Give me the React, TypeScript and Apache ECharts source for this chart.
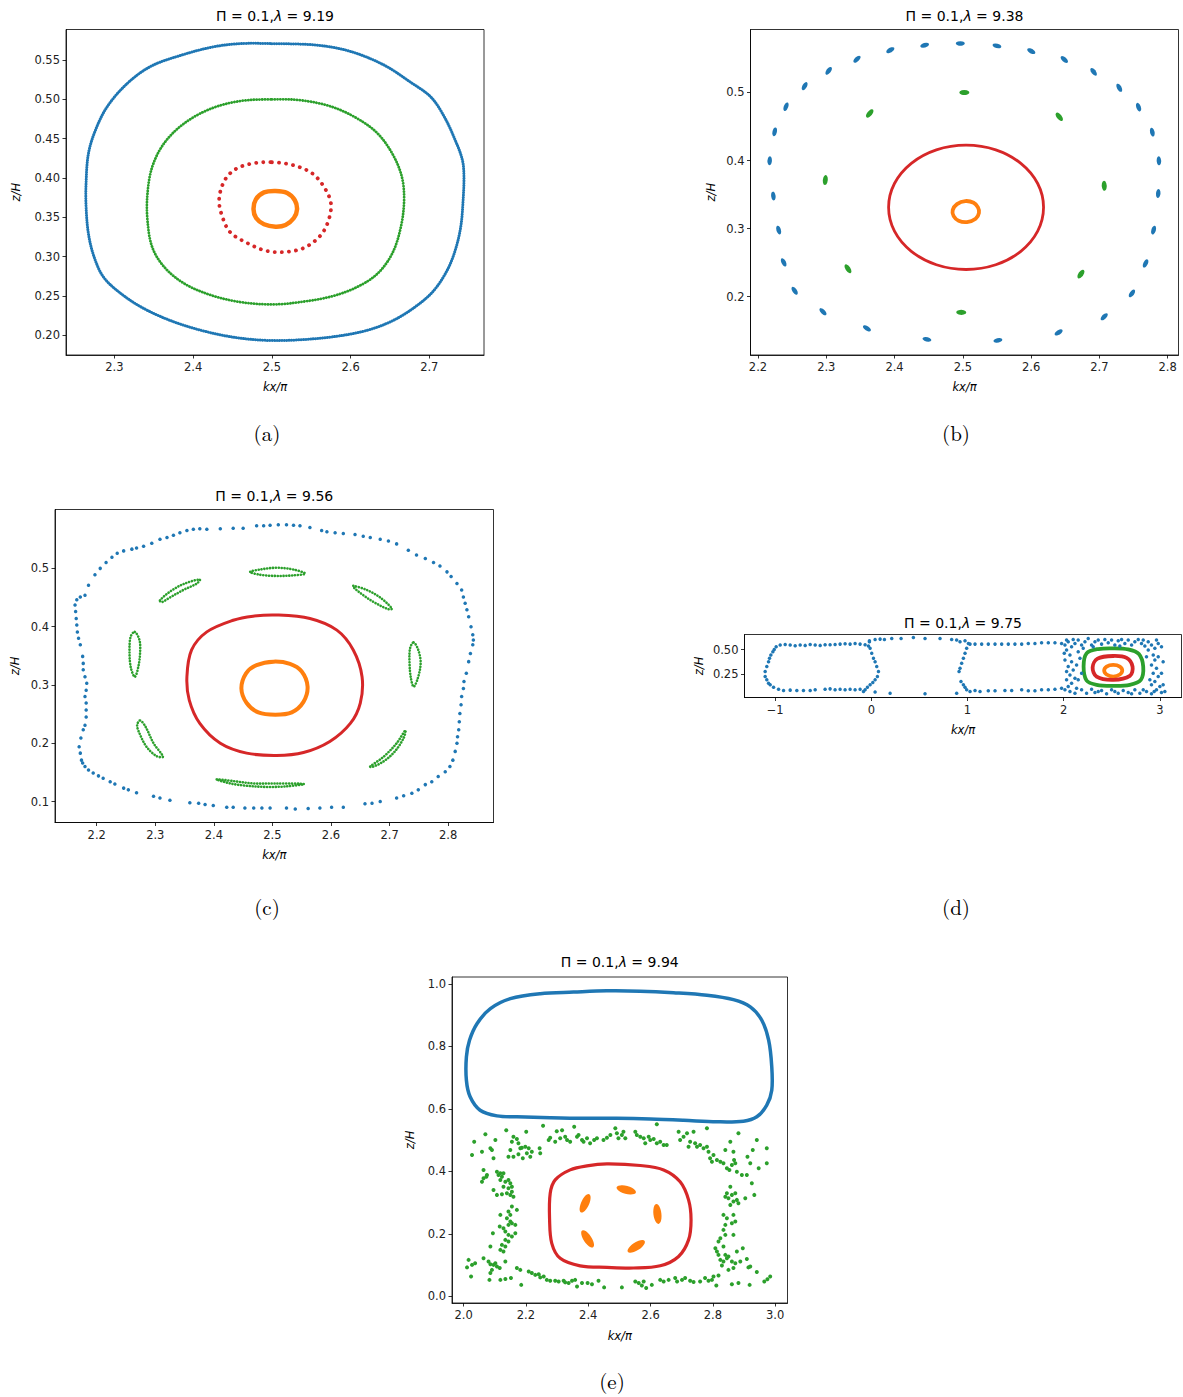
import React, { useEffect, useRef } from "react";
import * as echarts from "echarts";

// ---------------- DATA ----------------
const LAMBDAS = ["9.19", "9.38", "9.56", "9.75", "9.94"];
const CAPTIONS = ["(a)", "(b)", "(c)", "(d)", "(e)"];

// tick values
const aXTicks = [2.3, 2.4, 2.5, 2.6, 2.7];
const aYTicks = [0.2, 0.25, 0.3, 0.35, 0.4, 0.45, 0.5, 0.55];
const bXTicks = [2.2, 2.3, 2.4, 2.5, 2.6, 2.7, 2.8];
const bYTicks = [0.2, 0.3, 0.4, 0.5];
const cXTicks = [2.2, 2.3, 2.4, 2.5, 2.6, 2.7, 2.8];
const cYTicks = [0.1, 0.2, 0.3, 0.4, 0.5];
const dXTicks = [-1, 0, 1, 2, 3];
const dYTicks = [0.25, 0.5];
const eXTicks = [2.0, 2.2, 2.4, 2.6, 2.8, 3.0];
const eYTicks = [0.0, 0.2, 0.4, 0.6, 0.8, 1.0];

// (a) lambda = 9.19
const aBlue = [[2.500,0.571],[2.558,0.569],[2.600,0.561],[2.642,0.544],[2.676,0.522],[2.702,0.503],[2.719,0.478],[2.733,0.448],[2.742,0.423],[2.744,0.402],[2.743,0.372],[2.740,0.338],[2.733,0.308],[2.723,0.283],[2.706,0.257],[2.685,0.238],[2.655,0.219],[2.621,0.206],[2.579,0.198],[2.536,0.194],[2.500,0.193],[2.460,0.196],[2.418,0.204],[2.375,0.217],[2.337,0.234],[2.308,0.253],[2.286,0.274],[2.274,0.300],[2.267,0.329],[2.264,0.363],[2.264,0.393],[2.267,0.431],[2.276,0.461],[2.291,0.491],[2.316,0.520],[2.346,0.542],[2.384,0.556],[2.426,0.567],[2.460,0.571]];
const aGreen = [[2.500,0.500],[2.536,0.499],[2.575,0.491],[2.608,0.476],[2.634,0.457],[2.653,0.431],[2.665,0.402],[2.668,0.372],[2.664,0.338],[2.653,0.304],[2.634,0.278],[2.608,0.261],[2.575,0.249],[2.536,0.242],[2.500,0.239],[2.460,0.242],[2.422,0.251],[2.388,0.266],[2.363,0.287],[2.348,0.312],[2.342,0.346],[2.342,0.380],[2.348,0.414],[2.363,0.444],[2.388,0.469],[2.422,0.488],[2.460,0.498]];
const aRed = [[2.500,0.420],[2.528,0.416],[2.551,0.406],[2.566,0.389],[2.575,0.368],[2.572,0.346],[2.562,0.327],[2.543,0.312],[2.520,0.306],[2.494,0.307],[2.469,0.317],[2.447,0.331],[2.437,0.351],[2.433,0.372],[2.439,0.395],[2.452,0.410],[2.473,0.418]];
const aOrange = [[2.5047,0.3835],[2.5195,0.3809],[2.5292,0.3716],[2.532,0.360],[2.528,0.349],[2.5174,0.3401],[2.5047,0.338],[2.490,0.341],[2.480,0.349],[2.4767,0.3603],[2.4797,0.3727],[2.490,0.3816]];

// (b) lambda = 9.38
const bBlue = [[2.4963,0.5719],[2.550,0.5685],[2.6003,0.5607],[2.6487,0.5485],[2.6916,0.5303],[2.7292,0.5069],[2.7575,0.4785],[2.7776,0.4418],[2.7873,0.3997],[2.7863,0.3517],[2.7795,0.2979],[2.7678,0.2489],[2.7478,0.2049],[2.7072,0.1706],[2.6404,0.1476],[2.5515,0.1359],[2.4475,0.1374],[2.3596,0.1535],[2.2952,0.178],[2.2537,0.2088],[2.2376,0.2504],[2.2303,0.2979],[2.2225,0.3478],[2.2171,0.3997],[2.2244,0.4422],[2.241,0.479],[2.2683,0.5093],[2.3035,0.5318],[2.345,0.5489],[2.3938,0.5622],[2.4441,0.5695]];
const bGreen = [[2.5022,0.5],[2.6413,0.4643],[2.7072,0.363],[2.6731,0.2333],[2.4978,0.177],[2.3318,0.2411],[2.2986,0.3713],[2.3636,0.4692]];
const bRed = [[2.5048,0.4226],[2.5483,0.4157],[2.5850,0.3959],[2.6097,0.3663],[2.6183,0.3313],[2.6097,0.2963],[2.5850,0.2667],[2.5483,0.2469],[2.5048,0.2400],[2.4613,0.2469],[2.4246,0.2667],[2.3999,0.2963],[2.3913,0.3313],[2.3999,0.3663],[2.4246,0.3959],[2.4613,0.4157]];
const bOrange = [[2.5037,0.3405],[2.5159,0.338],[2.5222,0.3312],[2.5237,0.3233],[2.5188,0.3145],[2.5061,0.3096],[2.4939,0.3116],[2.4866,0.3184],[2.4852,0.3272],[2.4915,0.336]];

// (c) lambda = 9.56
const cBlue = [[2.197,0.489],[2.206,0.500],[2.216,0.510],[2.226,0.519],[2.235,0.526],[2.246,0.530],[2.260,0.533],[2.268,0.535],[2.280,0.538],[2.294,0.543],[2.308,0.550],[2.320,0.553],[2.331,0.557],[2.342,0.561],[2.354,0.565],[2.365,0.567],[2.376,0.568],[2.388,0.567],[2.411,0.568],[2.433,0.569],[2.450,0.569],[2.473,0.573],[2.485,0.573],[2.496,0.574],[2.510,0.575],[2.524,0.575],[2.536,0.574],[2.547,0.573],[2.564,0.570],[2.584,0.565],[2.593,0.563],[2.607,0.561],[2.621,0.560],[2.641,0.558],[2.655,0.555],[2.667,0.553],[2.684,0.550],[2.698,0.547],[2.712,0.542],[2.732,0.531],[2.746,0.523],[2.761,0.517],[2.775,0.510],[2.786,0.504],[2.798,0.494],[2.805,0.486],[2.815,0.474],[2.823,0.463],
[2.826,0.451],[2.829,0.440],[2.832,0.429],[2.835,0.417],[2.839,0.400],[2.842,0.386],[2.843,0.377],[2.842,0.369],[2.838,0.354],[2.835,0.340],[2.831,0.320],[2.827,0.306],[2.826,0.294],[2.823,0.280],[2.822,0.266],[2.820,0.251],[2.819,0.237],[2.818,0.223],[2.816,0.211],[2.815,0.200],[2.812,0.186],[2.808,0.171],[2.803,0.160],
[2.795,0.151],[2.783,0.143],[2.772,0.134],[2.761,0.129],[2.749,0.120],[2.738,0.114],[2.724,0.110],[2.712,0.106],[2.684,0.100],[2.670,0.097],[2.658,0.096],[2.621,0.090],[2.601,0.090],[2.581,0.089],[2.561,0.088],[2.539,0.087],[2.524,0.089],[2.496,0.089],[2.482,0.089],[2.468,0.089],[2.453,0.089],[2.433,0.090],[2.422,0.090],[2.399,0.093],[2.385,0.095],[2.374,0.097],[2.359,0.098],[2.325,0.102],[2.308,0.106],[2.297,0.109],[2.268,0.115],[2.254,0.120],[2.246,0.123],[2.231,0.130],[2.223,0.134],[2.211,0.140],[2.203,0.144],[2.194,0.149],[2.186,0.154],[2.180,0.160],[2.176,0.166],[2.174,0.171],
[2.172,0.183],[2.170,0.194],[2.173,0.209],[2.177,0.223],[2.180,0.231],[2.182,0.245],[2.182,0.257],[2.182,0.269],[2.180,0.280],[2.182,0.291],[2.183,0.303],[2.180,0.314],[2.177,0.326],[2.177,0.337],[2.176,0.349],[2.172,0.369],[2.169,0.380],[2.167,0.391],[2.166,0.403],[2.165,0.414],[2.164,0.426],[2.163,0.437],[2.166,0.446],[2.172,0.451],[2.180,0.454],[2.186,0.471]];
const cGreenIslands = [
  [[2.462,0.494],[2.479,0.498],[2.507,0.501],[2.536,0.498],[2.556,0.491],[2.536,0.488],[2.507,0.487],[2.479,0.489]],
  [[2.308,0.445],[2.325,0.460],[2.348,0.473],[2.376,0.481],[2.371,0.474],[2.348,0.463],[2.325,0.450],[2.311,0.442]],
  [[2.638,0.470],[2.661,0.463],[2.684,0.450],[2.704,0.431],[2.698,0.430],[2.675,0.441],[2.655,0.454],[2.639,0.467]],
  [[2.265,0.391],[2.273,0.377],[2.274,0.354],[2.271,0.331],[2.265,0.314],[2.258,0.331],[2.256,0.360],[2.258,0.383]],
  [[2.741,0.373],[2.749,0.360],[2.753,0.337],[2.748,0.311],[2.741,0.297],[2.736,0.314],[2.734,0.340],[2.735,0.363]],
  [[2.274,0.239],[2.283,0.229],[2.297,0.200],[2.313,0.177],[2.302,0.178],[2.285,0.194],[2.273,0.217],[2.269,0.231]],
  [[2.667,0.160],[2.690,0.177],[2.712,0.200],[2.727,0.222],[2.724,0.209],[2.709,0.186],[2.690,0.169],[2.670,0.159]],
  [[2.405,0.138],[2.433,0.135],[2.468,0.131],[2.507,0.131],[2.554,0.130],[2.524,0.126],[2.490,0.125],[2.456,0.127],[2.428,0.131]]
];
const cRed = [[2.507,0.420],[2.564,0.414],[2.610,0.394],[2.638,0.360],[2.653,0.314],[2.650,0.269],[2.633,0.234],[2.598,0.203],[2.553,0.184],[2.507,0.179],[2.456,0.183],[2.411,0.200],[2.376,0.234],[2.358,0.274],[2.354,0.314],[2.362,0.360],[2.388,0.391],[2.433,0.411],[2.467,0.418]];
const cOrange = [[2.502,0.340],[2.530,0.336],[2.550,0.323],[2.560,0.297],[2.553,0.271],[2.533,0.253],[2.505,0.249],[2.476,0.253],[2.456,0.269],[2.447,0.294],[2.455,0.320],[2.473,0.334]];

// (d) lambda = 9.75
const dBlue = [
  [-0.990,0.530],[-0.948,0.547],[-0.896,0.554],[-0.844,0.547],[-0.792,0.541],[-0.740,0.547],[-0.688,0.544],[-0.636,0.554],[-0.584,0.547],[-0.532,0.544],[-0.481,0.551],[-0.429,0.551],[-0.377,0.554],[-0.325,0.557],[-0.273,0.561],[-0.221,0.557],[-0.169,0.564],[-0.117,0.557],[-0.065,0.551],[-0.030,0.537],
  [-0.013,0.514],[0.004,0.463],[0.022,0.412],[0.039,0.378],[0.056,0.328],[0.074,0.277],[0.063,0.226],[0.039,0.193],[0.015,0.166],[-0.013,0.142],[-0.041,0.118],[-0.065,0.091],[-0.082,0.074],
  [-0.117,0.098],[-0.169,0.091],[-0.221,0.098],[-0.273,0.091],[-0.325,0.098],[-0.377,0.091],[-0.429,0.101],[-0.481,0.098],[-0.584,0.091],[-0.636,0.084],[-0.706,0.084],[-0.775,0.084],[-0.844,0.088],[-0.913,0.084],[-0.965,0.098],[-1.017,0.118],[-1.052,0.142],[-1.069,0.159],
  [-1.087,0.193],[-1.104,0.226],[-1.104,0.277],[-1.087,0.328],[-1.069,0.378],[-1.059,0.412],[-1.045,0.446],[-1.024,0.480],[-1.010,0.503],
  [-0.020,0.591],[-0.020,0.581],[0.039,0.605],[0.091,0.608],[0.136,0.605],[0.212,0.615],[0.309,0.615],[0.437,0.625],[0.558,0.615],[0.714,0.615],[0.835,0.605],
  [0.039,0.068],[0.195,0.057],[0.558,0.051],[0.887,0.057],
  [0.887,0.598],[0.922,0.581],[0.974,0.591],[1.009,0.564],[1.026,0.557],[0.991,0.514],[0.974,0.463],[0.957,0.412],[0.939,0.361],[0.922,0.311],[0.912,0.277],[0.932,0.176],[0.957,0.142],[0.974,0.118],[0.991,0.091],[1.026,0.074],
  [1.078,0.557],[1.147,0.557],[1.216,0.557],[1.286,0.557],[1.355,0.557],[1.424,0.557],[1.493,0.557],[1.563,0.557],[1.632,0.564],[1.701,0.564],[1.770,0.571],[1.840,0.571],[1.909,0.571],[1.978,0.564],
  [1.078,0.084],[1.130,0.074],[1.216,0.081],[1.286,0.081],[1.389,0.084],[1.459,0.084],[1.563,0.091],[1.632,0.081],[1.701,0.081],[1.770,0.091],[1.840,0.091],[1.909,0.098],[1.978,0.108],
  [2.013,0.547],[2.047,0.581],[2.082,0.530],[2.117,0.564],[2.151,0.598],[2.186,0.547],[2.221,0.581],[2.255,0.615],[2.290,0.547],[2.325,0.581],[2.359,0.598],[2.394,0.557],[2.428,0.605],[2.463,0.571],[2.498,0.598],[2.532,0.547],[2.567,0.591],[2.602,0.605],[2.636,0.564],[2.671,0.598],[2.706,0.547],[2.740,0.581],[2.775,0.605],[2.809,0.564],[2.844,0.537],[2.879,0.581],[2.913,0.547],[2.948,0.514],[2.983,0.564],
  [2.030,0.497],[2.065,0.446],[2.013,0.395],[2.082,0.378],[2.047,0.328],[2.099,0.294],[2.065,0.243],[2.117,0.209],[2.030,0.193],[2.082,0.159],[2.047,0.125],[2.134,0.108],[2.013,0.091],
  [2.151,0.480],[2.169,0.412],[2.134,0.345],[2.186,0.260],[2.151,0.193],
  [2.186,0.091],[2.238,0.057],[2.290,0.098],[2.325,0.064],[2.394,0.084],[2.446,0.051],[2.498,0.091],[2.567,0.057],[2.619,0.084],[2.671,0.064],[2.740,0.091],[2.792,0.057],[2.861,0.074],[2.913,0.051],[2.965,0.091],[3.017,0.064],[3.052,0.074],
  [2.879,0.497],[2.931,0.446],[2.948,0.395],[2.913,0.345],[2.965,0.311],[2.931,0.260],[2.983,0.226],[2.948,0.176],[2.913,0.142],[3.000,0.125],[2.896,0.193],[2.861,0.429],
  [2.030,0.598],[2.099,0.605],[2.203,0.514],[2.307,0.530],[2.584,0.537],[2.827,0.598],[2.965,0.598],[3.017,0.530],[3.034,0.378],[3.017,0.260],[3.034,0.142],[2.983,0.429],[2.065,0.074],[2.117,0.057],[2.359,0.074],[2.532,0.074],[2.706,0.051],[2.827,0.091],[2.941,0.074],[2.030,0.277],[2.006,0.463]
];
const dGreen = [[2.515,0.514],[2.671,0.503],[2.782,0.456],[2.827,0.328],[2.802,0.193],[2.688,0.142],[2.515,0.132],[2.342,0.142],[2.238,0.186],[2.207,0.328],[2.238,0.463],[2.359,0.507]];
const dRed = [[2.515,0.436],[2.654,0.416],[2.716,0.328],[2.688,0.233],[2.515,0.193],[2.342,0.226],[2.301,0.321],[2.352,0.409]];
const dOrange = [[2.515,0.345],[2.584,0.328],[2.609,0.287],[2.584,0.247],[2.515,0.226],[2.446,0.247],[2.421,0.287],[2.446,0.328]];

// (e) lambda = 9.94
const eBlue = [[2.043,0.873],[2.086,0.921],[2.150,0.953],[2.246,0.969],[2.353,0.974],[2.460,0.978],[2.567,0.977],[2.674,0.972],[2.781,0.964],[2.866,0.950],[2.920,0.927],[2.957,0.884],[2.979,0.820],[2.989,0.735],[2.989,0.660],[2.973,0.612],[2.941,0.575],[2.898,0.561],[2.813,0.559],[2.706,0.564],[2.599,0.568],[2.492,0.570],[2.385,0.570],[2.278,0.572],[2.171,0.575],[2.107,0.578],[2.053,0.596],[2.021,0.639],[2.009,0.692],[2.009,0.767],[2.019,0.820]];
const eGreen = [
  [2.137,0.532],[2.201,0.527],[2.255,0.546],[2.070,0.519],[2.102,0.501],[2.034,0.495],[2.160,0.511],[2.171,0.504],[2.155,0.495],[2.176,0.490],[2.187,0.476],[2.198,0.479],[2.209,0.474],[2.219,0.463],[2.203,0.458],[2.214,0.447],[2.190,0.442],[2.176,0.455],[2.150,0.469],[2.144,0.447],[2.160,0.447],[2.086,0.474],[2.091,0.469],[2.059,0.463],[2.027,0.453],[2.096,0.442],[2.182,0.474],[2.246,0.458],[2.244,0.474],[2.278,0.508],[2.273,0.501],[2.299,0.529],[2.294,0.495],[2.310,0.506],[2.326,0.511],[2.332,0.501],[2.342,0.495],[2.355,0.543],[2.364,0.511],[2.369,0.517],[2.380,0.501],[2.385,0.495],[2.396,0.506],[2.406,0.490],[2.419,0.501],[2.428,0.506],[2.449,0.501],[2.460,0.508],[2.471,0.517],[2.487,0.538],[2.492,0.522],[2.497,0.506],[2.316,0.532],
  [2.064,0.405],[2.075,0.389],[2.064,0.378],[2.059,0.367],[2.073,0.383],[2.107,0.399],[2.118,0.394],[2.112,0.389],[2.123,0.383],[2.128,0.394],[2.118,0.373],[2.134,0.367],[2.144,0.373],[2.150,0.362],[2.155,0.351],[2.144,0.346],[2.128,0.351],[2.155,0.335],[2.160,0.319],[2.150,0.325],[2.096,0.341],[2.107,0.325],[2.139,0.330],[2.123,0.327],
  [2.155,0.288],[2.144,0.272],[2.150,0.261],[2.139,0.250],[2.150,0.240],[2.144,0.229],[2.155,0.234],[2.166,0.229],[2.171,0.277],[2.118,0.261],[2.116,0.224],[2.128,0.218],[2.134,0.208],[2.094,0.202],[2.144,0.197],[2.155,0.192],[2.166,0.202],[2.134,0.181],[2.144,0.176],[2.123,0.165],[2.134,0.160],[2.118,0.149],[2.128,0.144],[2.086,0.160],[2.064,0.122],
  [2.016,0.117],[2.027,0.101],[2.011,0.093],[2.037,0.106],[2.080,0.112],[2.086,0.103],[2.096,0.101],[2.102,0.106],[2.107,0.096],[2.116,0.091],[2.091,0.085],[2.134,0.112],[2.086,0.075],[2.024,0.064],[2.083,0.053],[2.118,0.053],[2.134,0.056],[2.152,0.059],
  [2.171,0.091],[2.182,0.085],[2.209,0.080],[2.219,0.075],[2.230,0.069],[2.241,0.071],[2.246,0.061],[2.257,0.064],[2.267,0.053],[2.278,0.050],[2.294,0.050],[2.305,0.048],[2.321,0.050],[2.326,0.045],[2.337,0.043],[2.348,0.050],[2.358,0.053],[2.364,0.032],[2.380,0.043],[2.398,0.043],[2.412,0.039],[2.433,0.050],[2.451,0.029],[2.185,0.037],
  [2.508,0.517],[2.513,0.527],[2.519,0.506],[2.551,0.527],[2.556,0.517],[2.567,0.511],[2.578,0.506],[2.583,0.490],[2.594,0.511],[2.599,0.501],[2.610,0.504],[2.620,0.490],[2.631,0.495],[2.642,0.485],[2.652,0.485],[2.620,0.551],[2.690,0.527],[2.695,0.501],[2.706,0.511],[2.717,0.522],[2.722,0.479],[2.727,0.495],[2.738,0.527],[2.743,0.490],[2.749,0.479],[2.759,0.485],[2.770,0.474],[2.781,0.538],[2.781,0.479],[2.786,0.463],[2.791,0.442],[2.802,0.453],[2.813,0.437],[2.797,0.431],[2.824,0.431],[2.834,0.426],[2.840,0.469],[2.845,0.410],[2.856,0.495],[2.861,0.421],[2.872,0.426],[2.866,0.463],[2.877,0.399],[2.853,0.405],[2.868,0.437],[2.882,0.522],[2.893,0.389],[2.911,0.447],[2.920,0.426],[2.928,0.469],[2.941,0.501],[2.947,0.410],[2.973,0.474],[2.973,0.426],[2.909,0.389],[2.925,0.362],[2.933,0.325],
  [2.856,0.351],[2.845,0.330],[2.840,0.319],[2.850,0.314],[2.861,0.325],[2.872,0.330],[2.866,0.304],[2.877,0.309],[2.882,0.298],[2.856,0.293],[2.834,0.261],[2.845,0.250],[2.866,0.261],[2.872,0.240],[2.861,0.234],[2.840,0.229],[2.834,0.213],[2.840,0.197],[2.866,0.197],[2.824,0.186],[2.818,0.176],[2.904,0.314],
  [2.808,0.154],[2.813,0.144],[2.818,0.133],[2.834,0.160],[2.840,0.133],[2.850,0.128],[2.824,0.117],[2.834,0.112],[2.845,0.122],[2.861,0.112],[2.872,0.106],[2.877,0.144],[2.888,0.112],[2.866,0.091],[2.850,0.085],[2.829,0.099],[2.896,0.154],[2.909,0.120],[2.914,0.093],[2.941,0.078],[2.920,0.096],
  [2.508,0.029],[2.551,0.048],[2.562,0.043],[2.572,0.035],[2.578,0.048],[2.586,0.027],[2.604,0.037],[2.631,0.053],[2.642,0.048],[2.658,0.053],[2.679,0.059],[2.685,0.048],[2.701,0.053],[2.711,0.059],[2.727,0.050],[2.738,0.046],[2.759,0.048],[2.775,0.059],[2.786,0.050],[2.797,0.053],[2.802,0.064],[2.811,0.035],[2.818,0.067],[2.861,0.039],[2.882,0.043],[2.918,0.037],[2.965,0.048],[2.984,0.064],[2.975,0.055]
];
const eRed = [[2.460,0.424],[2.567,0.419],[2.642,0.405],[2.695,0.367],[2.722,0.309],[2.730,0.245],[2.722,0.181],[2.690,0.128],[2.631,0.098],[2.545,0.091],[2.460,0.093],[2.374,0.098],[2.310,0.122],[2.283,0.170],[2.276,0.245],[2.278,0.330],[2.294,0.373],[2.342,0.405],[2.396,0.418]];
const eOrange = [[2.522,0.341],[2.390,0.298],[2.622,0.264],[2.398,0.184],[2.554,0.160]];

// ---------------- STYLE / LAYOUT ----------------
const C_BLUE = "#1f77b4";
const C_ORANGE = "#ff7f0e";
const C_GREEN = "#2ca02c";
const C_RED = "#d62728";
const FONT = "DejaVu Sans";

const PANELS = [
  { grid: { left: 66, top: 29.5, width: 418, height: 325.5 }, x: [2.2385, 2.7695], y: [0.1746, 0.589], xt: aXTicks, yt: aYTicks, xd: 1, yd: 2, xGap: 26, yGap: 44, titleY: 15.5, cap: [267, 432] },
  { grid: { left: 750.5, top: 29.5, width: 428, height: 325.5 }, x: [2.189, 2.816], y: [0.1144, 0.5925], xt: bXTicks, yt: bYTicks, xd: 1, yd: 1, xGap: 26, yGap: 34, titleY: 15.5, cap: [956, 432] },
  { grid: { left: 55, top: 509.5, width: 438.5, height: 313 }, x: [2.1288, 2.8774], y: [0.064, 0.601], xt: cXTicks, yt: cYTicks, xd: 1, yd: 1, xGap: 26, yGap: 34, titleY: 496, cap: [267, 906] },
  { grid: { left: 744.5, top: 634.5, width: 437, height: 63 }, x: [-1.319, 3.225], y: [0.013, 0.655], xt: dXTicks, yt: dYTicks, xd: 0, yd: 2, xGap: 26, yGap: 40, titleY: 622.5, cap: [956, 906] },
  { grid: { left: 452, top: 977, width: 335.5, height: 326 }, x: [1.9628, 3.0395], y: [-0.021, 1.0224], xt: eXTicks, yt: eYTicks, xd: 1, yd: 1, xGap: 27, yGap: 36, titleY: 962, cap: [612, 1380] },
];

function fmt(v: number, d: number) {
  return Number(v).toFixed(d).replace("-", "\u2212");
}

// closed smooth curve through the read points, placed by the axes (api.coord)
function loopS(i: number, pts: number[][], color: string, width: number, dash?: number[], smooth = 0.34) {
  return {
    type: "custom",
    coordinateSystem: "cartesian2d",
    xAxisIndex: i,
    yAxisIndex: i,
    data: pts,
    silent: true,
    clip: false,
    renderItem: (params: any, api: any) => {
      if (params.dataIndex !== 0) return null;
      return {
        type: "polygon",
        silent: true,
        shape: { points: pts.map((p) => api.coord(p)), smooth },
        style: {
          fill: "none",
          stroke: color,
          lineWidth: width,
          lineDash: dash || null,
          lineCap: "round",
          lineJoin: "round",
        },
      };
    },
  };
}

function scatterS(i: number, pts: number[][], color: string, size: number) {
  return {
    type: "scatter",
    xAxisIndex: i,
    yAxisIndex: i,
    data: pts,
    symbol: "circle",
    symbolSize: size,
    silent: true,
    itemStyle: { color, opacity: 1 },
  };
}

function dashS(i: number, pts: number[][], color: string, size: number[]) {
  const p = PANELS[i];
  const pxX = p.grid.width / (p.x[1] - p.x[0]);
  const pxY = p.grid.height / (p.y[1] - p.y[0]);
  const cx = pts.reduce((s, q) => s + q[0], 0) / pts.length;
  const cy = pts.reduce((s, q) => s + q[1], 0) / pts.length;
  return {
    type: "scatter",
    xAxisIndex: i,
    yAxisIndex: i,
    symbol: "circle",
    symbolSize: size,
    silent: true,
    itemStyle: { color, opacity: 1 },
    data: pts.map((q) => ({
      value: q,
      symbolRotate: (Math.atan2((q[1] - cy) * pxY, (q[0] - cx) * pxX) * 180) / Math.PI + 90,
    })),
  };
}

export default function App() {
  const ref = useRef<HTMLDivElement>(null);
  useEffect(() => {
    const chart = echarts.init(ref.current as HTMLDivElement, null, { renderer: "svg" });
    const axisCommon = {
      type: "value",
      splitLine: { show: false },
      axisLine: { show: true, onZero: false, lineStyle: { color: "#000", width: 0.8 } },
      nameLocation: "middle",
      nameTextStyle: { fontFamily: FONT, fontSize: 11.5, fontStyle: "italic", color: "#000" },
    };
    const xAxis = PANELS.map((p, i) => ({
      ...axisCommon,
      gridIndex: i,
      min: p.x[0],
      max: p.x[1],
      name: "kx/\u03c0",
      nameGap: p.xGap,
      axisTick: { show: true, length: 3.5, lineStyle: { color: "#000", width: 0.8 }, customValues: p.xt },
      axisLabel: { customValues: p.xt, margin: 6, color: "#222", fontFamily: FONT, fontSize: 11.5, formatter: (v: number) => fmt(v, p.xd) },
    }));
    const yAxis = PANELS.map((p, i) => ({
      ...axisCommon,
      gridIndex: i,
      min: p.y[0],
      max: p.y[1],
      name: "z/H",
      nameGap: p.yGap,
      axisTick: { show: true, length: 3.5, lineStyle: { color: "#000", width: 0.8 }, customValues: p.yt },
      axisLabel: { customValues: p.yt, margin: 6, color: "#222", fontFamily: FONT, fontSize: 11.5, formatter: (v: number) => fmt(v, p.yd) },
    }));
    const grid = PANELS.map((p) => ({
      ...p.grid,
      show: true,
      borderColor: "#000",
      borderWidth: 0.8,
      backgroundColor: "transparent",
      containLabel: false,
    }));

    const series: any[] = [
      // (a)
      loopS(0, aBlue, C_BLUE, 3, [0.1, 2.3]),
      loopS(0, aOrange, C_ORANGE, 4.5),
      loopS(0, aGreen, C_GREEN, 2.8, [0.1, 2.7]),
      loopS(0, aRed, C_RED, 3.8, [0.1, 7]),
      // (b)
      dashS(1, bBlue, C_BLUE, [9, 4.5]),
      loopS(1, bOrange, C_ORANGE, 3.8),
      dashS(1, bGreen, C_GREEN, [10, 5]),
      loopS(1, bRed, C_RED, 2.8),
      // (c)
      scatterS(2, cBlue, C_BLUE, 3.5),
      loopS(2, cOrange, C_ORANGE, 4),
      ...cGreenIslands.map((isl) => loopS(2, isl, C_GREEN, 2.6, [0.1, 2.8])),
      loopS(2, cRed, C_RED, 3),
      // (d)
      scatterS(3, dBlue, C_BLUE, 3.5),
      loopS(3, dOrange, C_ORANGE, 3.8),
      loopS(3, dGreen, C_GREEN, 3.8),
      loopS(3, dRed, C_RED, 3.8),
      // (e)
      loopS(4, eBlue, C_BLUE, 3.5),
      dashS(4, eOrange, C_ORANGE, [20, 8]),
      scatterS(4, eGreen, C_GREEN, 4),
      loopS(4, eRed, C_RED, 3.2),
    ];

    const graphic: any[] = [];
    PANELS.forEach((p, i) => {
      graphic.push({
        type: "text",
        x: p.grid.left + p.grid.width / 2,
        y: p.titleY,
        silent: true,
        style: {
          text: `{n|\u03a0 = 0.1,}{i|\u03bb}{n| = ${LAMBDAS[i]}}`,
          align: "center",
          verticalAlign: "middle",
          rich: {
            n: { fontFamily: FONT, fontSize: 14, fill: "#000" },
            i: { fontFamily: FONT, fontSize: 14, fontStyle: "italic", fill: "#000" },
          },
        },
      });
      graphic.push({
        type: "text",
        x: p.cap[0],
        y: p.cap[1],
        silent: true,
        style: {
          text: CAPTIONS[i],
          align: "center",
          verticalAlign: "middle",
          fontFamily: "'Latin Modern Roman','CMU Serif','Liberation Serif',serif",
          fontSize: 21,
          fill: "#000",
        },
      });
    });

    chart.setOption({
      animation: false,
      backgroundColor: "#fff",
      textStyle: { fontFamily: FONT },
      grid,
      xAxis,
      yAxis,
      series,
      graphic,
    });
    return () => chart.dispose();
  }, []);
  return <div ref={ref} style={{ position: "absolute", left: 0, top: 0, width: 1183, height: 1397 }} />;
}
